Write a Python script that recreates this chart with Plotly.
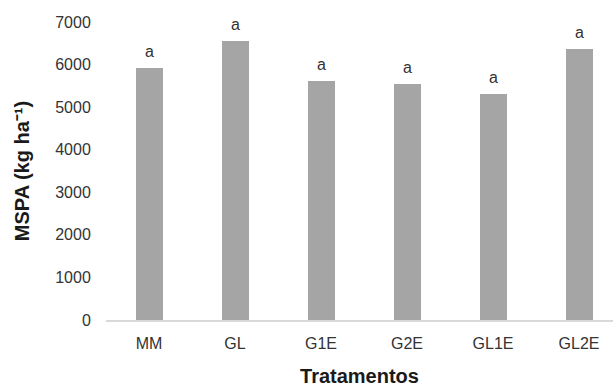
import plotly.graph_objects as go

# Dry matter yield per treatment
tratamentos = ["MM", "GL", "G1E", "G2E", "GL1E", "GL2E"]
mspa = [5930, 6560, 5620, 5550, 5310, 6360]
letras = ["a", "a", "a", "a", "a", "a"]
y_ticks = [0, 1000, 2000, 3000, 4000, 5000, 6000, 7000]

FONT = "Liberation Sans, Arial, sans-serif"

fig = go.Figure()
fig.add_trace(go.Bar(
    x=tratamentos,
    y=mspa,
    width=0.314,
    marker=dict(color="#a5a5a5", line=dict(width=0)),
    showlegend=False,
))

# Significance letters above each bar
for cat, val, txt in zip(tratamentos, mspa, letras):
    fig.add_annotation(
        x=cat, y=val, text=txt, showarrow=False,
        xanchor="center", yanchor="bottom", yshift=6,
        font=dict(family=FONT, size=16, color="#333333"),
    )

fig.update_layout(
    width=614, height=387,
    margin=dict(l=106, r=1, t=22, b=67),
    paper_bgcolor="white", plot_bgcolor="white",
    font=dict(family=FONT, size=16, color="#333333"),
    bargap=0.0,
)

fig.update_xaxes(
    type="category",
    range=[-0.5, 5.395],
    showline=True, linecolor="#d9d9d9", linewidth=1.5,
    showgrid=False, zeroline=False,
    ticks="outside", ticklen=8, tickcolor="rgba(0,0,0,0)",
    tickfont=dict(family=FONT, size=16, color="#333333"),
    title=dict(text="Tratamentos", standoff=18,
               font=dict(family=FONT, size=20, color="#1a1a1a", weight="bold")),
)

fig.update_yaxes(
    range=[0, 7000],
    tickvals=y_ticks,
    showline=False, showgrid=False, zeroline=False,
    ticks="outside", ticklen=11, tickcolor="rgba(0,0,0,0)",
    tickfont=dict(family=FONT, size=16, color="#333333"),
    title=dict(text="MSPA (kg ha⁻¹)", standoff=20,
               font=dict(family=FONT, size=20, color="#1a1a1a", weight="bold")),
)

fig.write_html("out.html")
